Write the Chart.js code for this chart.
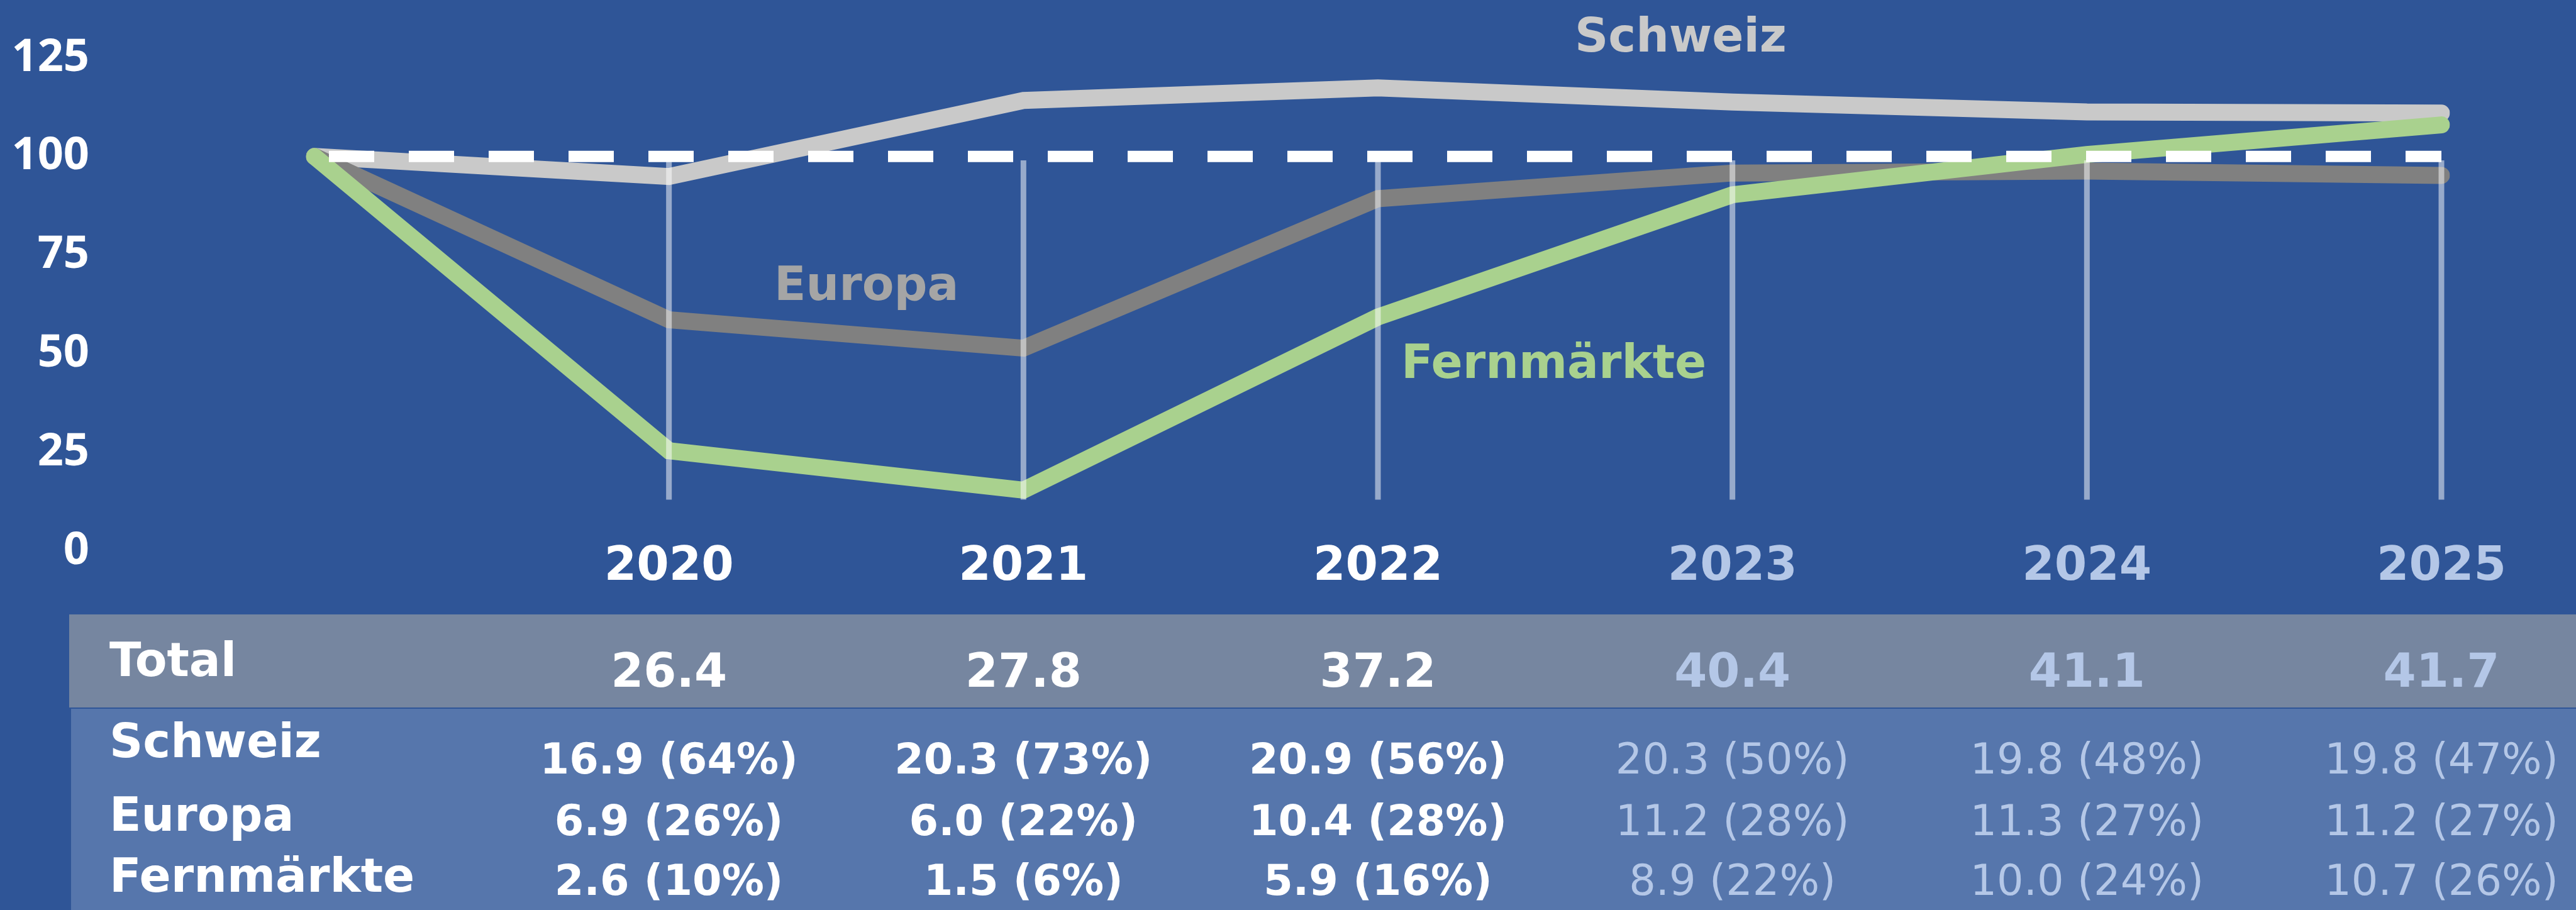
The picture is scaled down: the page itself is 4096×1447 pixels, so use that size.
<!DOCTYPE html>
<html>
<head>
<meta charset="utf-8">
<script src="https://cdn.jsdelivr.net/npm/chart.js@4.4.0/dist/chart.umd.min.js"></script>
<style>
  html, body { margin: 0; padding: 0; background: #2F5597; overflow: hidden; }
  canvas { display: block; }
</style>
</head>
<body>
<canvas id="logiernaechte" width="4096" height="1447"></canvas>
<script>
const ctx = 'logiernaechte';

// Index 2019 = 100
const jahre = ['', '2020', '2021', '2022', '2023', '2024', '2025'];
const indexSchweiz = [100, 94.9, 114.2, 117.4, 113.8, 111.3, 111.0];
const indexEuropa = [100, 58.6, 51.4, 89.3, 95.8, 96.3, 95.2];
const indexFern = [100, 25.4, 15.4, 59.3, 90.3, 100.5, 108.0];
const basisLinie = [100, 100, 100, 100, 100, 100, 100];
const yTicks = [0, 25, 50, 75, 100, 125];

// Tabelle (Mio. Logiernaechte, Anteil in %)
const total = [26.4, 27.8, 37.2, 40.4, 41.1, 41.7];
const schweizMio = [16.9, 20.3, 20.9, 20.3, 19.8, 19.8];
const schweizAnteil = [64, 73, 56, 50, 48, 47];
const europaMio = [6.9, 6.0, 10.4, 11.2, 11.3, 11.2];
const europaAnteil = [26, 22, 28, 28, 27, 27];
const fernMio = [2.6, 1.5, 5.9, 8.9, 10.0, 10.7];
const fernAnteil = [10, 6, 16, 22, 24, 26];
const istJahre = 3; // 2020-2022 Ist, danach Prognose

const weiss = '#FFFFFF';
const prognoseBlau = '#B4C7E7';
const dejavu = (size, bold) => (bold ? 'bold ' : '') + size + 'px "DejaVu Sans"';

//------------------------------------------------------- HILFSLINIEN + TABELLE --------------------------------------------------------------//

const tabelle = {
    id: 'tabelle',
    afterDatasetsDraw(chart) {
        const c = chart.ctx;
        const x = chart.scales.x;
        const y = chart.scales.y;
        c.save();
        c.strokeStyle = 'rgba(255, 255, 255, 0.5)';
        c.lineWidth = 9;
        for (let i = 1; i < jahre.length; i++) {
            const px = x.getPixelForValue(i);
            c.beginPath();
            c.moveTo(px, y.getPixelForValue(99));
            c.lineTo(px, y.getPixelForValue(13));
            c.stroke();
        }
        c.restore();
    },
    afterDraw(chart) {
        const c = chart.ctx;
        const x = chart.scales.x;
        c.save();

        // Jahreszahlen unter dem Diagramm
        c.textBaseline = 'alphabetic';
        c.textAlign = 'center';
        c.font = dejavu(74, true);
        jahre.forEach((j, i) => {
            c.fillStyle = i <= istJahre ? weiss : prognoseBlau;
            c.fillText(j, x.getPixelForValue(i), 922);
        });

        // Serienbeschriftungen
        c.textAlign = 'left';
        c.fillStyle = '#C9C9C9';
        c.fillText('Schweiz', 2504, 82);
        c.fillStyle = '#A5A5A5';
        c.fillText('Europa', 1231, 477);
        c.fillStyle = '#A9D18E';
        c.fillText('Fernmärkte', 2228, 601);

        // Hintergrund Tabelle
        c.fillStyle = '#7686A0';
        c.fillRect(110, 977, chart.width - 110, 148);
        c.fillStyle = '#5676AC';
        c.fillRect(113, 1127, chart.width - 113, chart.height - 1127);

        // Zeilentitel
        c.fillStyle = weiss;
        c.font = dejavu(74, true);
        c.fillText('Total', 174, 1075);
        c.fillText('Schweiz', 174, 1204);
        c.fillText('Europa', 174, 1321);
        c.fillText('Fernmärkte', 174, 1418);

        // Werte
        c.textAlign = 'center';
        const zeilen = [
            [schweizMio, schweizAnteil, 1230],
            [europaMio, europaAnteil, 1328],
            [fernMio, fernAnteil, 1423],
        ];
        total.forEach((v, i) => {
            const px = x.getPixelForValue(i + 1);
            c.font = dejavu(75, true);
            c.fillStyle = i < istJahre ? weiss : prognoseBlau;
            c.fillText(v.toFixed(1), px, 1092);
            zeilen.forEach(([mio, anteil, base]) => {
                c.font = dejavu(67, i < istJahre);
                c.fillText(mio[i].toFixed(1) + ' (' + anteil[i] + '%)', px, base);
            });
        });
        c.restore();
    }
};

//------------------------------------------------------- GRAFIK ------------------------------------------------------------------------------//

const linie = (label, data, farbe, order) => ({
    label: label,
    data: data,
    borderColor: farbe,
    borderWidth: 27,
    borderCapStyle: 'round',
    borderJoinStyle: 'miter',
    pointRadius: 0,
    tension: 0,
    order: order
});

const logiernaechte = new Chart(ctx, {
    type: 'line',
    data: {
        labels: jahre,
        datasets: [
            {
                label: 'Basis',
                data: basisLinie,
                borderColor: weiss,
                borderWidth: 18,
                borderDash: [72, 55],
                borderDashOffset: 104,
                borderCapStyle: 'butt',
                pointRadius: 0,
                order: 0
            },
            linie('Fernmärkte', indexFern, '#A9D18E', 1),
            linie('Europa', indexEuropa, '#808080', 2),
            linie('Schweiz', indexSchweiz, '#C9C9C9', 3),
        ]
    },
    options: {
        responsive: false,
        animation: false,
        devicePixelRatio: 1,
        layout: {
            padding: { top: 92, right: 214, bottom: 0, left: 0 }
        },
        plugins: {
            legend: { display: false },
            title: { display: false },
            tooltip: { enabled: false }
        },
        scales: {
            x: {
                grid: { display: false, drawTicks: false },
                border: { display: false },
                ticks: { display: false },
                afterFit: (scale) => {
                    scale.height = 571;
                    scale.paddingLeft = 0;
                    scale.paddingRight = 0;
                }
            },
            y: {
                min: 0,
                max: 125,
                grid: { display: false, drawTicks: false },
                border: { display: false },
                ticks: {
                    padding: 358,
                    color: weiss,
                    font: { family: '"Open Sans"', weight: 'bold', size: 72, lineHeight: 1 }
                },
                afterBuildTicks: (scale) => { scale.ticks = yTicks.map(v => ({ value: v })); },
                afterFit: (scale) => {
                    scale.width = 500;
                    scale.paddingTop = 37;
                    scale.paddingBottom = 37;
                }
            }
        }
    },
    plugins: [tabelle]
});
</script>
</body>
</html>
